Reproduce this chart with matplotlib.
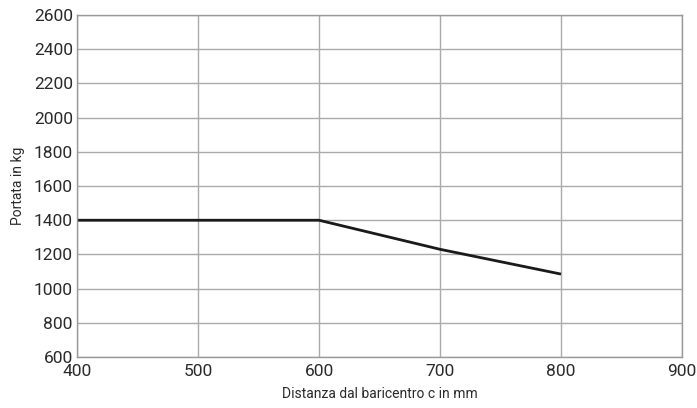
import matplotlib
matplotlib.use("Agg")
import matplotlib.pyplot as plt

plt.rcParams["font.family"] = ["Roboto", "DejaVu Sans"]

distance_mm = [400, 600, 700, 800]
capacity_kg = [1400, 1400, 1230, 1085]
x_ticks = [400, 500, 600, 700, 800, 900]
y_ticks = list(range(600, 2601, 200))

fig = plt.figure(figsize=(6.97, 4.08), dpi=100)
ax = fig.add_axes([0.1105, 0.125, 0.868, 0.838])

ax.plot(distance_mm, capacity_kg, color="#1a1a1a", linewidth=2.0, solid_capstyle="butt")

ax.set_xlim(400, 900)
ax.set_ylim(600, 2600)
ax.set_xticks(x_ticks)
ax.set_yticks(y_ticks)
ax.grid(True, color="#aaaaaa", linewidth=1.0)
ax.set_axisbelow(True)
for s in ax.spines.values():
    s.set_color("#999999")
    s.set_linewidth(1.0)
ax.tick_params(length=0, labelsize=12.5, colors="#2a2a2a")
ax.tick_params(axis="x", pad=5)
ax.tick_params(axis="y", pad=3)
ax.set_xlabel("Distanza dal baricentro c in mm", fontsize=10, color="#2a2a2a", labelpad=6)
ax.set_ylabel("Portata in kg", fontsize=10, color="#2a2a2a", labelpad=6)

fig.savefig("out.png", dpi=100)
